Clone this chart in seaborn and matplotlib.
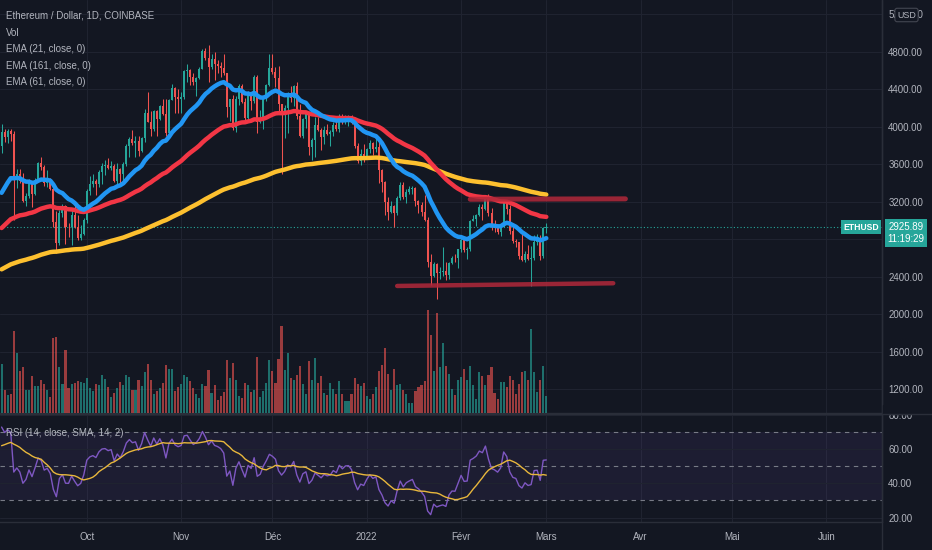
import numpy as np
import pandas as pd
import matplotlib
matplotlib.use("Agg")
import matplotlib.pyplot as plt
import matplotlib.dates as mdates
from matplotlib import font_manager
from matplotlib.patches import Rectangle
import seaborn as sns

# --- ETH/USD daily candles (Coinbase), 3 Sept 2021 -> 1 Mar 2022 ---
start_date = "2021-09-03"
first_open = 3790

close = [
    # Sept 3-30
    3940, 3890, 3950, 3925, 3430, 3495, 3425, 3210, 3265, 3410, 3285, 3430, 3610, 3570,
    3400, 3430, 3335, 2980, 2760, 3080, 3155, 2930, 2925, 3060, 2930, 2810, 2850, 3000,
    # Oct
    3310, 3390, 3420, 3385, 3515, 3580, 3590, 3560, 3580, 3420, 3545, 3490, 3605, 3790,
    3870, 3830, 3850, 3745, 3875, 4150, 4055, 3970, 4170, 4085, 4220, 4130, 3930, 4285,
    4415, 4320, 4290,
    # Nov
    4320, 4590, 4605, 4535, 4475, 4520, 4620, 4810, 4735, 4635, 4725, 4665, 4650, 4625,
    4570, 4210, 4290, 3990, 4300, 4435, 4265, 4090, 4340, 4270, 4525, 4045, 4095, 4295,
    4445, 4630,
    # Dec
    4585, 4520, 4240, 4120, 4200, 4355, 4310, 4435, 4110, 3900, 4085, 4130, 3785, 3860,
    4020, 3960, 3890, 3960, 3925, 3940, 4020, 3980, 4110, 4045, 4095, 4100, 4035, 3795,
    3630, 3710, 3680,
    # Jan
    3765, 3830, 3765, 3785, 3540, 3410, 3195, 3090, 3155, 3080, 3240, 3375, 3245, 3305,
    3330, 3350, 3210, 3165, 3095, 3000, 2560, 2405, 2540, 2440, 2455, 2465, 2420, 2550,
    2600, 2595, 2690,
    # Feb
    2790, 2685, 2690, 2990, 3020, 3060, 3145, 3125, 3240, 3075, 2935, 2915, 2880, 2935,
    3185, 3125, 2885, 2785, 2765, 2625, 2575, 2640, 2590, 2600, 2775, 2780, 2620, 2920,
    # Mar 1
    2925.89,
]

high = [
    4025, 3970, 3975, 3970, 3950, 3550, 3550, 3510, 3290, 3440, 3420, 3450, 3620, 3680,
    3590, 3540, 3450, 3345, 3100, 3110, 3175, 3160, 2970, 3115, 3170, 3060, 2950, 3030,
    3330, 3470, 3490, 3440, 3540, 3610, 3640, 3670, 3630, 3600, 3610, 3560, 3620, 3815,
    3890, 3960, 3900, 3905, 3885, 4190, 4370, 4170, 4180, 4180, 4230, 4295, 4300, 4300,
    4460, 4420, 4400,
    4375, 4600, 4665, 4610, 4570, 4530, 4635, 4825, 4840, 4870, 4780, 4800, 4710, 4690,
    4770, 4570, 4300, 4340, 4330, 4450, 4450, 4310, 4380, 4370, 4550, 4550, 4180, 4300,
    4460, 4780,
    4780, 4640, 4650, 4240, 4230, 4370, 4430, 4445, 4480, 4240, 4095, 4150, 4130, 3880,
    4100, 4100, 3990, 4010, 4030, 3965, 4045, 4060, 4140, 4140, 4125, 4120, 4125, 4040,
    3830, 3760, 3810,
    3770, 3860, 3840, 3880, 3850, 3545, 3420, 3245, 3210, 3160, 3260, 3410, 3410, 3340,
    3365, 3370, 3355, 3215, 3195, 3270, 3040, 2640, 2560, 2550, 2500, 2720, 2555, 2560,
    2620, 2640, 2700,
    2810, 2800, 2720, 3000, 3060, 3070, 3170, 3180, 3250, 3285, 3130, 3000, 2950, 2955,
    3190, 3200, 3160, 2940, 2800, 2765, 2865, 2670, 2740, 2730, 2840, 2850, 2840, 2930,
    2975,
]

low = [
    3720, 3840, 3830, 3850, 3000, 3350, 3395, 3200, 3150, 3240, 3140, 3270, 3410, 3540,
    3370, 3360, 3320, 2930, 2650, 2740, 3040, 2750, 2820, 2740, 2920, 2790, 2790, 2840,
    2970, 3270, 3360, 3270, 3360, 3390, 3480, 3545, 3540, 3410, 3390, 3390, 3415, 3580,
    3680, 3800, 3680, 3690, 3730, 3835, 4050, 3900, 3950, 3900, 4075, 4120, 3900, 3880,
    4280, 4150, 4150,
    4150, 4300, 4480, 4440, 4440, 4330, 4505, 4610, 4710, 4480, 4610, 4500, 4570, 4530,
    4550, 4100, 4060, 3960, 3940, 4230, 4250, 4060, 4060, 4180, 4250, 3930, 4035, 3975,
    4275, 4430,
    4560, 4425, 4150, 3500, 3880, 3930, 4260, 4220, 4080, 3890, 3880, 3990, 3700, 3640,
    3680, 3950, 3750, 3820, 3915, 3790, 3905, 3950, 3940, 4030, 4030, 4010, 4030, 3770,
    3610, 3590, 3620,
    3680, 3720, 3700, 3725, 3400, 3300, 3060, 3000, 3080, 2930, 3060, 3220, 3230, 3185,
    3280, 3280, 3155, 3080, 3050, 2990, 2500, 2310, 2400, 2160, 2370, 2410, 2360, 2380,
    2530, 2560, 2490,
    2660, 2660, 2590, 2670, 2990, 2940, 3050, 3000, 3110, 3050, 2900, 2880, 2860, 2830,
    2930, 3070, 2860, 2760, 2720, 2590, 2570, 2560, 2580, 2300, 2580, 2740, 2580, 2600,
    2865,
]

# volume, thousand ETH
volume_k = [
    490, 230, 180, 190, 820, 600, 420, 460, 230, 230, 370, 270, 270, 330, 290, 230, 160,
    750, 760, 460, 290, 630, 250, 290, 300, 320, 310, 300,
    350, 250, 220, 290, 280, 380, 340, 260, 160, 200, 250, 310, 280, 380, 360, 230, 230,
    330, 270, 410, 490, 330, 190, 220, 250, 300, 480, 440, 440, 220, 260,
    290, 380, 360, 320, 250, 190, 150, 290, 270, 430, 200, 280, 130, 170, 210, 530, 350,
    500, 330, 170, 150, 300, 280, 210, 230, 560, 160, 220, 300, 530,
    420, 300, 540, 870, 430, 600, 350, 330, 380, 470, 290, 190, 520, 330, 550, 300, 370,
    200, 180, 300, 240, 190, 320, 190, 120, 120, 190, 350, 290, 270, 300,
    170, 140, 190, 260, 420, 480, 650, 390, 230, 440, 280, 290, 230, 190, 100, 100, 220,
    260, 280, 320, 1030, 780, 420, 1000, 460, 700, 470, 390, 240, 180, 330,
    360, 440, 330, 470, 280, 140, 410, 370, 280, 380, 460, 200, 140, 310, 310, 260, 370,
    330, 190, 290, 410, 420, 330, 840, 410, 210, 330, 470,
    170,
]

ema_seed = {"ema21": 3230, "ema61": 2885, "ema161": 2460}
rsi_gain_seed, rsi_loss_seed, rsi_ma_seed = 55.0, 25.0, 61.0

# drawn horizontal levels
resist_dates = ["2022-02-04", "2022-03-27"]
resist_price = [3226, 3230]
support_dates = ["2022-01-11", "2022-03-23"]
support_price = [2301, 2330]

month_ticks = ["2021-10-01", "2021-11-01", "2021-12-01", "2022-01-01", "2022-02-01",
               "2022-03-01", "2022-04-01", "2022-05-01", "2022-06-01"]
month_labels = ["Oct", "Nov", "Déc", "2022", "Févr", "Mars", "Avr", "Mai", "Juin"]
price_grid = [1200, 1600, 2000, 2400, 2800, 3200, 3600, 4000, 4400, 4800, 5200]
price_labels = [1200, 1600, 2000, 2400, 3200, 3600, 4000, 4400, 4800, 5200]  # 2800 sits under the price tag
rsi_ticks = [20, 40, 60, 80]

# --- frame ---
df = pd.DataFrame({"date": pd.date_range(start_date, periods=len(close), freq="D"),
                   "close": close, "high": high, "low": low, "volume": volume_k})
df["open"] = [first_open] + close[:-1]
for name, seed in ema_seed.items():
    span = int(name[3:])
    s = pd.concat([pd.Series([float(seed)]), df["close"]], ignore_index=True)
    df[name] = s.ewm(span=span, adjust=False).mean().iloc[1:].values

delta = df["close"].diff()
delta.iloc[0] = df["close"].iloc[0] - first_open
ag = pd.concat([pd.Series([rsi_gain_seed]), delta.clip(lower=0)], ignore_index=True)
al = pd.concat([pd.Series([rsi_loss_seed]), (-delta).clip(lower=0)], ignore_index=True)
ag = ag.ewm(alpha=1 / 14, adjust=False).mean().iloc[1:].values
al = al.ewm(alpha=1 / 14, adjust=False).mean().iloc[1:].values
df["rsi"] = 100 - 100 / (1 + ag / al)
cnt = np.minimum(np.arange(1, len(df) + 1), 14)
df["rsi_ma"] = (df["rsi"].rolling(14, min_periods=1).sum() + rsi_ma_seed * (14 - cnt)) / 14

# --- style ---
BG = "#131722"
GRID = "#1f2330"
SEP = "#2a2e39"
TXT = "#b2b5be"
UP, DOWN = "#26a69a", "#ef5350"

sns.set_theme(style="dark", rc={"axes.facecolor": BG, "figure.facecolor": BG,
                                "axes.edgecolor": SEP, "text.color": TXT,
                                "xtick.color": TXT, "ytick.color": TXT})
names = {f.name for f in font_manager.fontManager.ttflist}
ui_font = "Liberation Sans Narrow" if "Liberation Sans Narrow" in names else "Liberation Sans"
plt.rcParams["font.family"] = [ui_font, "DejaVu Sans"]
FS = 7.7 if ui_font == "Liberation Sans Narrow" else 7.0

W, H = 932, 550
fig = plt.figure(figsize=(W / 100, H / 100), dpi=100)


def fbox(x0, y0, x1, y1):
    return [x0 / W, 1 - y1 / H, (x1 - x0) / W, (y1 - y0) / H]


ax = fig.add_axes(fbox(0, 0, 882, 413))
axr = fig.add_axes(fbox(0, 414, 882, 522), sharex=ax)

oct1 = mdates.date2num(pd.Timestamp("2021-10-01"))
px_day = 3.043
xlim = (oct1 - 86.8 / px_day, oct1 + (882 - 86.8) / px_day)

# month grid
for a in (ax, axr):
    for m in month_ticks:
        a.axvline(pd.Timestamp(m), color=GRID, lw=0.8, zorder=0)
for p in price_grid:
    ax.axhline(p, color=GRID, lw=0.8, zorder=0)

# candles
up = df["close"] >= df["open"]
colors = np.where(up, UP, DOWN)
ax.vlines(df["date"], df["low"], df["high"], colors=colors, lw=0.75, zorder=2)
body = (df["close"] - df["open"]).abs().clip(lower=9)
ax.bar(df["date"], body, bottom=np.minimum(df["open"], df["close"]), width=0.66,
       color=colors, zorder=3, linewidth=0)

# EMAs
sns.lineplot(data=df, x="date", y="ema161", color="#fdc02f", lw=3.2, ax=ax, zorder=4)
sns.lineplot(data=df, x="date", y="ema61", color="#f23645", lw=3.2, ax=ax, zorder=4)
sns.lineplot(data=df, x="date", y="ema21", color="#2196f3", lw=3.2, ax=ax, zorder=5)

# drawn levels
ax.plot(pd.to_datetime(resist_dates), resist_price, color="#b2283a", alpha=0.85, lw=3.6,
        solid_capstyle="round", zorder=6)
ax.plot(pd.to_datetime(support_dates), support_price, color="#b2283a", alpha=0.85, lw=3.2,
        solid_capstyle="round", zorder=6)

# last price line
last = df["close"].iloc[-1]
ax.axhline(last, color=UP, lw=0.8, ls=(0, (1, 2)), zorder=1)

# volume overlay
axv = ax.twinx()
axv.bar(df["date"], df["volume"], width=0.7, color=colors, alpha=0.62, linewidth=0, zorder=1)
axv.set_ylim(0, 4130)
axv.set_yticks([])
axv.grid(False)
for s in axv.spines.values():
    s.set_visible(False)

ax.set_xlim(*xlim)
ax.set_ylim(946, 5351)
ax.yaxis.tick_right()
ax.set_yticks(price_labels)
ax.set_yticklabels([f"{p:.2f}" for p in price_labels], fontsize=FS, color=TXT)
ax.tick_params(axis="y", length=0, pad=4.5)
ax.tick_params(axis="x", length=0, labelbottom=False)
ax.set_xlabel("")
ax.set_ylabel("")
for k, s in ax.spines.items():
    s.set_visible(k in ("right", "bottom"))
    s.set_color(SEP)
    s.set_linewidth(1)

# RSI pane
axr.axhspan(30, 70, color="#7e57c2", alpha=0.1, lw=0, zorder=0)
for t in rsi_ticks:
    axr.axhline(t, color=GRID, lw=0.8, zorder=0)
for lvl in (70, 50, 30):
    axr.axhline(lvl, color="#787b86", lw=0.8, ls=(0, (4, 4)), zorder=1)
sns.lineplot(data=df, x="date", y="rsi", color="#7e57c2", lw=1.0, ax=axr, zorder=3)
sns.lineplot(data=df, x="date", y="rsi_ma", color="#e8b73c", lw=1.0, ax=axr, zorder=4)
axr.set_ylim(17.4, 80.3)
axr.yaxis.tick_right()
axr.set_yticks(rsi_ticks)
axr.set_yticklabels([f"{t:.2f}" for t in rsi_ticks], fontsize=FS, color=TXT)
axr.tick_params(axis="y", length=0, pad=4.5)
axr.set_xticks(pd.to_datetime(month_ticks))
axr.set_xticklabels(month_labels, fontsize=FS, color=TXT)
axr.tick_params(axis="x", length=0, pad=7)
axr.set_xlabel("")
axr.set_ylabel("")
for k, s in axr.spines.items():
    s.set_visible(k in ("right", "bottom"))
    s.set_color(SEP)
    s.set_linewidth(1)
ax.set_xlim(*xlim)

# right column separator down through the date strip
fig.add_artist(plt.Line2D([882 / W, 882 / W], [0, 1], color=SEP, lw=1))
# hide upper half of the 80.00 label behind the pane border
fig.add_artist(Rectangle((883 / W, 1 - 414 / H), 49 / W, 9 / H, transform=fig.transFigure,
                         color=BG, zorder=5))
fig.add_artist(plt.Line2D([0, 932 / W], [1 - 413.5 / H] * 2, color=SEP, lw=1, zorder=6))

# legends
legend = ["Ethereum / Dollar, 1D, COINBASE", "Vol", "EMA (21, close, 0)",
          "EMA (161, close, 0)", "EMA (61, close, 0)"]
for i, t in enumerate(legend):
    fig.text(6 / W, 1 - (16 + 16.6 * i) / H, t, fontsize=FS, color=TXT, va="center")
fig.text(6 / W, 1 - 433 / H, "RSI (14, close, SMA, 14, 2)", fontsize=FS, color=TXT,
         va="center")

# price tags
ymark = ax.transData.transform((0, last))[1] / H
fig.text(861 / W, ymark, "ETHUSD", fontsize=FS - 0.8, color="white", ha="center",
         va="center", fontweight="bold",
         bbox=dict(boxstyle="square,pad=0.3", fc=UP, ec="none"), zorder=7)
fig.text(906 / W, ymark - 6 / H, "2925.89\n11:19:29", fontsize=FS, color="white",
         ha="center", va="center", linespacing=1.25,
         bbox=dict(boxstyle="square,pad=0.3", fc=UP, ec="none"), zorder=7)
fig.text(906.5 / W, 1 - 15 / H, "USD", fontsize=FS - 0.6, color=TXT, ha="center",
         va="center", bbox=dict(boxstyle="round,pad=0.25", fc=BG, ec="#434651", lw=0.8),
         zorder=7)

fig.savefig("out.png", dpi=100, facecolor=BG)
